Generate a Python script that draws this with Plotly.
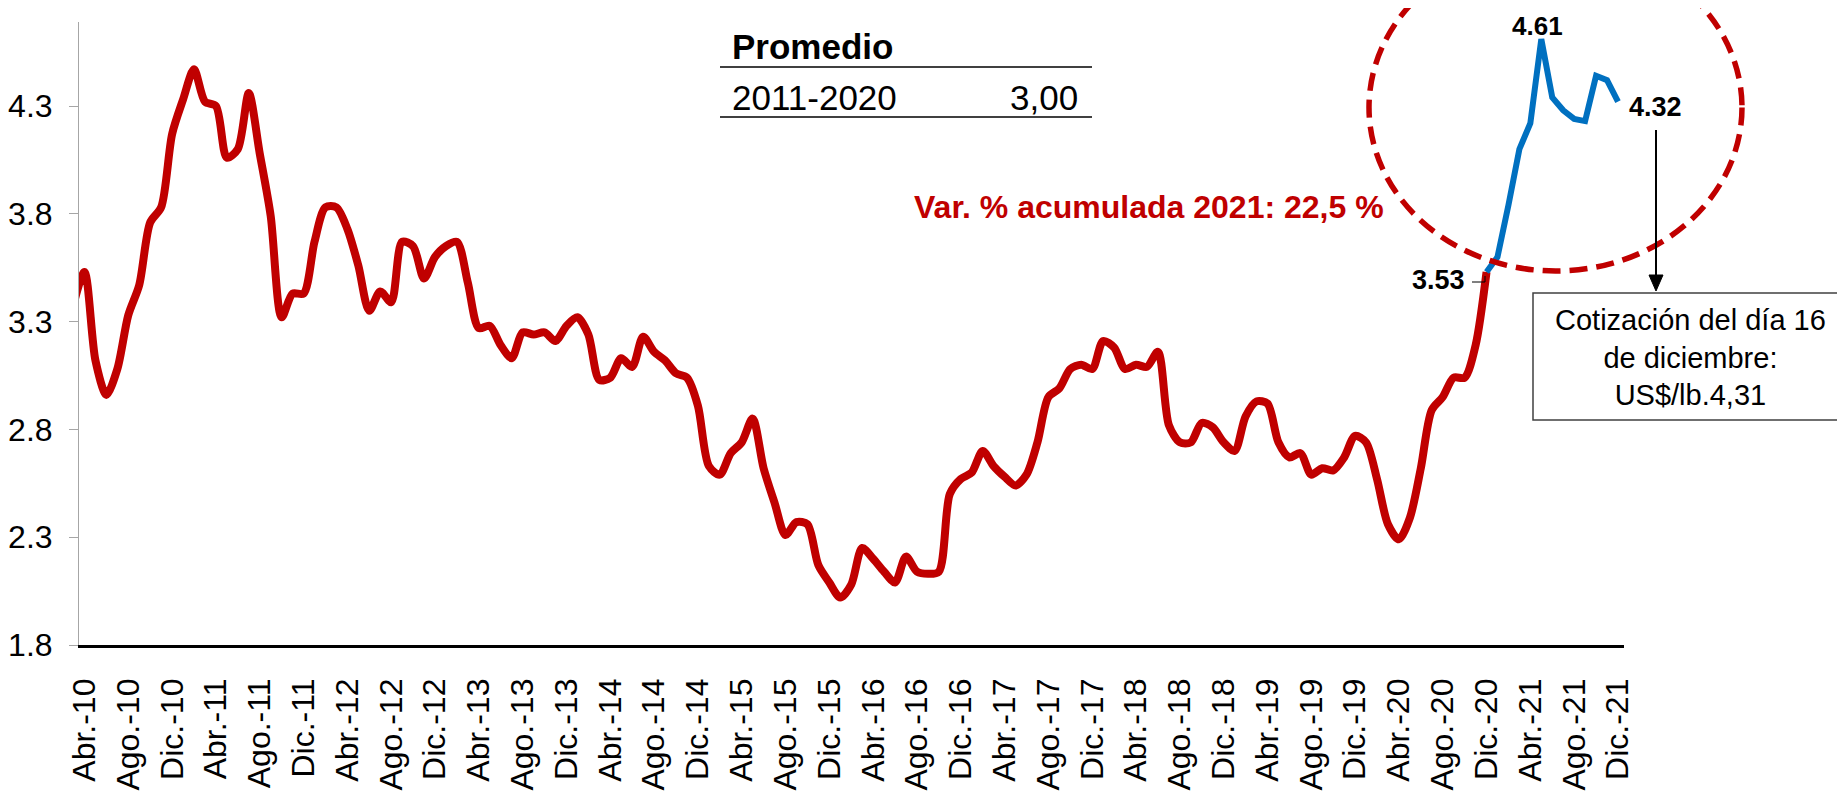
import plotly.graph_objects as go

# ---------------- DATA ----------------
# Monthly copper price (US$/lb). Month index 0 = Abr.-10
red_start = -1  # first value = Mar.-10
red_values = [
    3.38, 3.53, 3.12, 2.96, 3.08, 3.33, 3.47, 3.76, 3.83, 4.17,   # Mar-10 .. Dic-10
    4.33, 4.47, 4.32, 4.30, 4.06, 4.10, 4.36, 4.08, 3.79, 3.32, 3.43, 3.43,  # 2011
    3.67, 3.83, 3.83, 3.73, 3.56, 3.35, 3.44, 3.39, 3.67, 3.65, 3.50, 3.60,  # 2012
    3.65, 3.67, 3.48, 3.27, 3.28, 3.19, 3.13, 3.25, 3.24, 3.25, 3.21, 3.28,  # 2013
    3.32, 3.24, 3.03, 3.04, 3.13, 3.09, 3.23, 3.16, 3.12, 3.06, 3.04, 2.91,  # 2014
    2.63, 2.59, 2.69, 2.74, 2.85, 2.62, 2.46, 2.31, 2.37, 2.36, 2.17, 2.09,  # 2015
    2.02, 2.08, 2.25, 2.20, 2.14, 2.09, 2.21, 2.14, 2.13, 2.14, 2.50, 2.57,  # 2016
    2.60, 2.70, 2.63, 2.58, 2.54, 2.59, 2.74, 2.95, 2.99, 3.08, 3.10, 3.08,  # 2017
    3.21, 3.18, 3.08, 3.10, 3.09, 3.16, 2.82, 2.74, 2.74, 2.83, 2.81, 2.74,  # 2018
    2.70, 2.86, 2.93, 2.92, 2.74, 2.67, 2.69, 2.59, 2.62, 2.61, 2.67, 2.77,  # 2019
    2.74, 2.57, 2.36, 2.29, 2.39, 2.62, 2.89, 2.95, 3.04, 3.04, 3.19, 3.53,  # 2020
]
blue_start = 128  # Dic.-20
blue_values = [3.53, 3.60, 3.84, 4.10, 4.22, 4.61, 4.34, 4.28, 4.24, 4.23, 4.44, 4.42, 4.32]

tick_idx = list(range(0, 141, 4))
tick_labels = [
    "Abr.-10", "Ago.-10", "Dic.-10", "Abr.-11", "Ago.-11", "Dic.-11",
    "Abr.-12", "Ago.-12", "Dic.-12", "Abr.-13", "Ago.-13", "Dic.-13",
    "Abr.-14", "Ago.-14", "Dic.-14", "Abr.-15", "Ago.-15", "Dic.-15",
    "Abr.-16", "Ago.-16", "Dic.-16", "Abr.-17", "Ago.-17", "Dic.-17",
    "Abr.-18", "Ago.-18", "Dic.-18", "Abr.-19", "Ago.-19", "Dic.-19",
    "Abr.-20", "Ago.-20", "Dic.-20", "Abr.-21", "Ago.-21", "Dic.-21",
]
y_ticks = [1.8, 2.3, 2.8, 3.3, 3.8, 4.3]
promedio_label = "2011-2020"
promedio_value = "3,00"
var_text = "Var. % acumulada 2021: 22,5 %"
box_text = "Cotización del día 16<br>de diciembre:<br>US$/lb.4,31"

RED = "#C00000"
BLUE = "#0070C0"
FONT = "Arial, 'Liberation Sans', sans-serif"

# ---------------- FIGURE ----------------
OFF = 8                      # page body margin of the HTML
W, H = 1845 - OFF, 801 - OFF
PLOT_L, PLOT_R, PLOT_T, PLOT_B = 79, 1624, 22, 645   # plot area in page pixels
L = PLOT_L - OFF
T = PLOT_T - OFF
R = W - (PLOT_R - OFF)
B = H - (PLOT_B - OFF)
PW, PH = PLOT_R - PLOT_L, PLOT_B - PLOT_T


def px(x):
    return (x - PLOT_L) / PW


def py(y):
    return (PLOT_B - y) / PH


red_x = [red_start + i for i in range(len(red_values))]
blue_x = [blue_start + i for i in range(len(blue_values))]

fig = go.Figure()
fig.add_trace(go.Scatter(x=red_x, y=red_values, mode="lines",
                         line=dict(color=RED, width=8, shape="spline", smoothing=0.8),
                         hoverinfo="skip"))
fig.add_trace(go.Scatter(x=blue_x, y=blue_values, mode="lines",
                         line=dict(color=BLUE, width=6),
                         hoverinfo="skip"))

fig.update_layout(
    width=W, height=H,
    margin=dict(l=L, r=R, t=T, b=B, autoexpand=False),
    plot_bgcolor="white", paper_bgcolor="white",
    showlegend=False,
    font=dict(family=FONT, color="black"),
    xaxis=dict(range=[-0.5, 140.55], tickmode="array", tickvals=tick_idx,
               ticktext=tick_labels, tickangle=-90, showgrid=False, zeroline=False,
               showline=True, linecolor="black", linewidth=2.5, ticks="",
               tickfont=dict(size=32, family=FONT, color="black"),
               ticklabelstandoff=18, automargin=False),
    yaxis=dict(range=[1.8, 1.8 + PH / 215.6], tickmode="array", tickvals=y_ticks,
               ticktext=[f"{v:.1f}" for v in y_ticks], showgrid=False, zeroline=False,
               showline=True, linecolor="#A6A6A6", linewidth=1,
               ticks="outside", ticklen=9, tickcolor="#A6A6A6",
               tickfont=dict(size=32, family=FONT, color="black"),
               ticklabelstandoff=10, automargin=False),
)

shapes = []
# dashed ellipse
shapes.append(dict(type="circle", xref="paper", yref="paper",
                   x0=px(1369), x1=px(1742), y0=py(271), y1=py(-56),
                   line=dict(color=RED, width=5.5, dash="18px,9px")))
# Promedio table lines
for yy in (67, 117):
    shapes.append(dict(type="line", xref="paper", yref="paper",
                       x0=px(720), x1=px(1092), y0=py(yy), y1=py(yy),
                       line=dict(color="black", width=1.5)))
# info box
shapes.append(dict(type="rect", xref="paper", yref="paper",
                   x0=px(1533), x1=px(1843), y0=py(420), y1=py(293),
                   line=dict(color="#404040", width=1.5), fillcolor="white"))
# arrow line + head
shapes.append(dict(type="line", xref="paper", yref="paper",
                   x0=px(1656), x1=px(1656), y0=py(130), y1=py(278),
                   line=dict(color="black", width=2)))
shapes.append(dict(type="path", xref="paper", yref="paper",
                   path=f"M {px(1649)},{py(275)} L {px(1663)},{py(275)} L {px(1656)},{py(291)} Z",
                   fillcolor="black", line=dict(color="black", width=1)))
# 3.53 leader
shapes.append(dict(type="path", xref="paper", yref="paper",
                   path=f"M {px(1472)},{py(282)} L {px(1485)},{py(282)} L {px(1485)},{py(276)}",
                   line=dict(color="black", width=1)))
fig.update_layout(shapes=shapes)

ann = []
ann.append(dict(xref="paper", yref="paper", x=px(730), y=py(46), xanchor="left", yanchor="middle",
                text="<b>Promedio</b>", showarrow=False, font=dict(size=35, color="black")))
ann.append(dict(xref="paper", yref="paper", x=px(730), y=py(97), xanchor="left", yanchor="middle",
                text=promedio_label, showarrow=False, font=dict(size=35, color="black")))
ann.append(dict(xref="paper", yref="paper", x=px(1080), y=py(97), xanchor="right", yanchor="middle",
                text=promedio_value, showarrow=False, font=dict(size=35, color="black")))
ann.append(dict(xref="paper", yref="paper", x=px(912), y=py(207), xanchor="left", yanchor="middle",
                text=f"<b>{var_text}</b>", showarrow=False, font=dict(size=32, color=RED)))
ann.append(dict(xref="paper", yref="paper", x=px(1690), y=py(357), xanchor="center", yanchor="middle",
                text=box_text, showarrow=False, align="center", font=dict(size=29, color="black")))

# data labels
imax = blue_values.index(max(blue_values))
ann.append(dict(x=blue_x[imax], y=blue_values[imax], text=f"<b>{blue_values[imax]:.2f}</b>",
                showarrow=False, xanchor="center", yanchor="middle", xshift=-4, yshift=13,
                borderpad=0, font=dict(size=26, color="black")))
ann.append(dict(x=blue_x[-1], y=blue_values[-1], text=f"<b>{blue_values[-1]:.2f}</b>",
                showarrow=False, xanchor="left", yanchor="middle", xshift=9, yshift=-5,
                font=dict(size=27, color="black")))
ann.append(dict(x=blue_x[0], y=blue_values[0], text=f"<b>{blue_values[0]:.2f}</b>",
                showarrow=False, xanchor="right", yanchor="middle", xshift=-20, yshift=-8,
                font=dict(size=27, color="black")))
fig.update_layout(annotations=ann)

fig.write_html("out.html")
